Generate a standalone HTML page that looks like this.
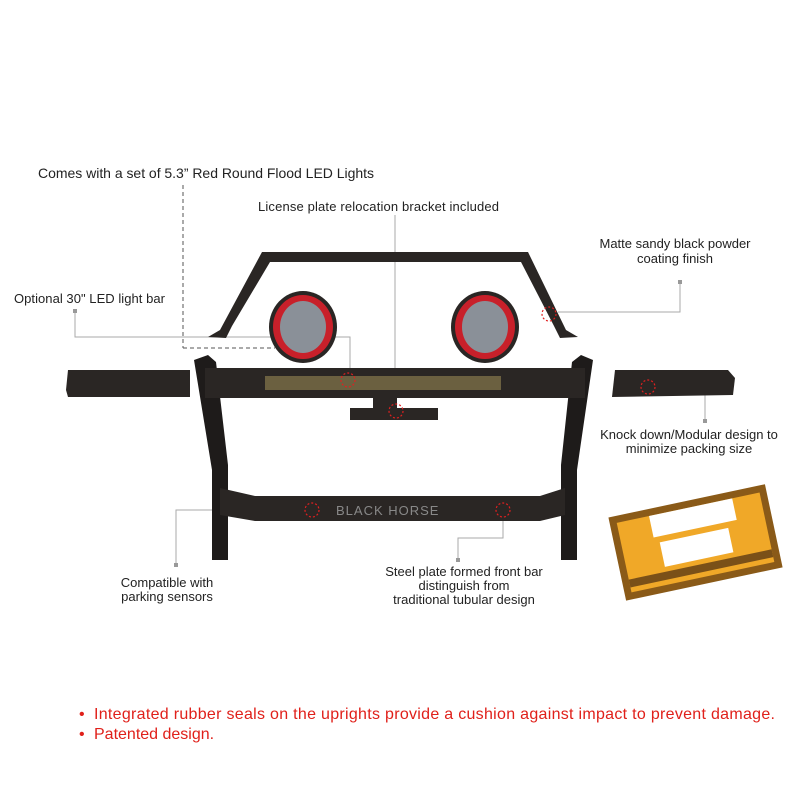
<!DOCTYPE html>
<html><head><meta charset="utf-8"><style>
body{margin:0;background:#fff}
svg{display:block}
text{font-family:"Liberation Sans",sans-serif;fill:#222}
</style></head><body>
<svg width="800" height="800" viewBox="0 0 800 800">
<g stroke="#aaa" stroke-width="1" fill="none">
<line x1="183" y1="185" x2="183" y2="348" stroke="#555" stroke-dasharray="4,3"/>
<line x1="183" y1="348" x2="275" y2="348" stroke="#555" stroke-dasharray="4,3"/>
<polyline points="75,312 75,337 350,337 350,372"/>
<line x1="395" y1="215" x2="395" y2="405"/>
<polyline points="680,282 680,312 558,312"/>
<polyline points="645,388 705,388 705,420"/>
<polyline points="310,510 176,510 176,565"/>
<polyline points="503,512 503,538 458,538 458,560"/>
</g>
<g fill="#999"><rect x="73" y="309" width="4" height="4"/><rect x="678" y="280" width="4" height="4"/><rect x="703" y="419" width="4" height="4"/><rect x="174" y="563" width="4" height="4"/><rect x="456" y="558" width="4" height="4"/></g>
<path d="M208,337 L220,330 L262,252 L528,252 L566,330 L578,337 L560,338 L554,326 L521,262 L270,262 L232,326 L226,338 Z" fill="#2a2624"/>
<g>
<ellipse cx="303" cy="327" rx="34" ry="36" fill="#2a2624"/>
<ellipse cx="303" cy="327" rx="30" ry="32" fill="#c8202a"/>
<ellipse cx="303" cy="327" rx="23" ry="26" fill="#8a9098"/>
<ellipse cx="485" cy="327" rx="34" ry="36" fill="#2a2624"/>
<ellipse cx="485" cy="327" rx="30" ry="32" fill="#c8202a"/>
<ellipse cx="485" cy="327" rx="23" ry="26" fill="#8a9098"/>
</g>
<path d="M68,370 L190,370 L190,397 L68,397 L66,390 Z" fill="#2a2624"/>
<path d="M615,370 L728,370 L735,378 L733,395 L612,397 Z" fill="#2a2624"/>
<path d="M194,360 L208,355 L216,362 L228,465 L228,560 L212,560 L212,470 Z" fill="#1e1b1a"/>
<path d="M572,362 L581,355 L593,360 L577,470 L577,560 L561,560 L561,465 Z" fill="#1e1b1a"/>
<rect x="205" y="368" width="380" height="30" fill="#2a2624"/>
<rect x="265" y="376" width="236" height="14" fill="#6b6040"/>
<rect x="373" y="397" width="24" height="14" fill="#2a2624"/>
<rect x="350" y="408" width="88" height="12" fill="#2a2624"/>
<path d="M220,488 L255,496 L540,496 L565,488 L565,515 L540,521 L255,521 L220,515 Z" fill="#2a2624"/>
<text x="336" y="515" font-size="13" style="fill:#888" letter-spacing="1">BLACK HORSE</text>
<g fill="none" stroke="#e02020" stroke-width="1.2" stroke-dasharray="2,2">
<circle cx="348" cy="380" r="7"/><circle cx="396" cy="411" r="7"/><circle cx="549" cy="314" r="7"/>
<circle cx="648" cy="387" r="7"/><circle cx="312" cy="510" r="7"/><circle cx="503" cy="510" r="7"/>
</g>
<g transform="translate(610,480) rotate(-12 85 60)">
<rect x="5" y="20" width="160" height="85" fill="#8a5a18"/>
<rect x="12" y="27" width="146" height="71" fill="#f0a828"/>
<rect x="45" y="27" width="85" height="22" fill="#fff"/>
<rect x="50" y="55" width="70" height="25" fill="#fff"/>
<rect x="12" y="85" width="146" height="8" fill="#7a5018"/>
</g>
<text x="38" y="178" font-size="14" textLength="336">Comes with a set of 5.3” Red Round Flood LED Lights</text>
<text x="258" y="211" font-size="13" textLength="241">License plate relocation bracket included</text>
<text x="14" y="303" font-size="13" textLength="151">Optional 30" LED light bar</text>
<text x="675" y="248" font-size="13" text-anchor="middle">Matte sandy black powder</text>
<text x="675" y="263" font-size="13" text-anchor="middle">coating finish</text>
<text x="689" y="439" font-size="13" text-anchor="middle">Knock down/Modular design to</text>
<text x="689" y="453" font-size="13" text-anchor="middle">minimize  packing size</text>
<text x="167" y="587" font-size="13" text-anchor="middle">Compatible with</text>
<text x="167" y="601" font-size="13" text-anchor="middle">parking sensors</text>
<text x="464" y="576" font-size="13" text-anchor="middle">Steel plate formed  front  bar</text>
<text x="464" y="590" font-size="13" text-anchor="middle">distinguish from</text>
<text x="464" y="604" font-size="13" text-anchor="middle">traditional tubular design</text>
<g font-size="16">
<text x="79" y="719" style="fill:#e0201a">•</text><text x="94" y="719" style="fill:#e0201a" textLength="681">Integrated rubber seals on the uprights provide a cushion against impact to prevent damage.</text>
<text x="79" y="739" style="fill:#e0201a">•</text><text x="94" y="739" style="fill:#e0201a">Patented design.</text>
</g>
</svg>
</body></html>
